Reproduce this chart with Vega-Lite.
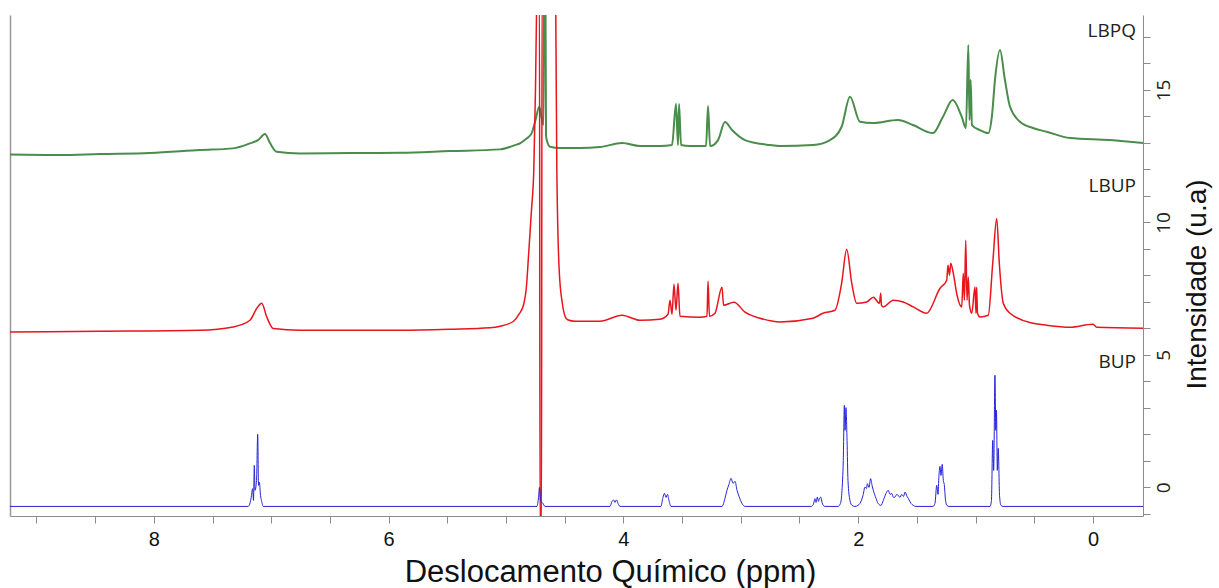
{
  "$schema": "https://vega.github.io/schema/vega-lite/v6.json",
  "width": 1133,
  "height": 501,
  "autosize": "none",
  "padding": {"left": 10, "top": 15, "right": 76, "bottom": 72},
  "background": "white",
  "config": {"view": {"stroke": null}},
  "datasets": {
    "spec": [
      {"serie":"LBPQ","ppm":9.225,"int":12.561},{"serie":"LBPQ","ppm":8.799,"int":12.543},{"serie":"LBPQ","ppm":8.458,"int":12.58},{"serie":"LBPQ","ppm":8.032,"int":12.618},{"serie":"LBPQ","ppm":7.606,"int":12.731},{"serie":"LBPQ","ppm":7.325,"int":12.796},{"serie":"LBPQ","ppm":7.181,"int":12.985},{"serie":"LBPQ","ppm":7.112,"int":13.109},{"serie":"LBPQ","ppm":7.053,"int":13.336},{"serie":"LBPQ","ppm":7.01,"int":12.996},{"serie":"LBPQ","ppm":6.953,"int":12.667},{"serie":"LBPQ","ppm":6.755,"int":12.607},{"serie":"LBPQ","ppm":6.329,"int":12.618},{"serie":"LBPQ","ppm":5.903,"int":12.63},{"serie":"LBPQ","ppm":5.477,"int":12.694},{"serie":"LBPQ","ppm":5.051,"int":12.758},{"serie":"LBPQ","ppm":4.923,"int":12.92},{"serie":"LBPQ","ppm":4.881,"int":12.985},{"serie":"LBPQ","ppm":4.83,"int":13.147},{"serie":"LBPQ","ppm":4.781,"int":13.374},{"serie":"LBPQ","ppm":4.753,"int":13.789},{"serie":"LBPQ","ppm":4.716,"int":14.367},{"serie":"LBPQ","ppm":4.702,"int":14.054},{"serie":"LBPQ","ppm":4.689,"int":13.789},{"serie":"LBPQ","ppm":4.681,"int":13.676},{"serie":"LBPQ","ppm":4.676,"int":18.776},{"serie":"LBPQ","ppm":4.664,"int":18.776},{"serie":"LBPQ","ppm":4.659,"int":13.298},{"serie":"LBPQ","ppm":4.653,"int":13.109},{"serie":"LBPQ","ppm":4.625,"int":12.856},{"serie":"LBPQ","ppm":4.54,"int":12.807},{"serie":"LBPQ","ppm":4.37,"int":12.807},{"serie":"LBPQ","ppm":4.199,"int":12.845},{"serie":"LBPQ","ppm":4.012,"int":12.996},{"serie":"LBPQ","ppm":3.859,"int":12.883},{"serie":"LBPQ","ppm":3.688,"int":12.883},{"serie":"LBPQ","ppm":3.586,"int":12.92},{"serie":"LBPQ","ppm":3.552,"int":14.469},{"serie":"LBPQ","ppm":3.535,"int":12.92},{"serie":"LBPQ","ppm":3.526,"int":14.469},{"serie":"LBPQ","ppm":3.509,"int":12.92},{"serie":"LBPQ","ppm":3.433,"int":12.883},{"serie":"LBPQ","ppm":3.296,"int":12.883},{"serie":"LBPQ","ppm":3.279,"int":14.394},{"serie":"LBPQ","ppm":3.262,"int":12.883},{"serie":"LBPQ","ppm":3.194,"int":13.109},{"serie":"LBPQ","ppm":3.135,"int":13.789},{"serie":"LBPQ","ppm":3.075,"int":13.487},{"serie":"LBPQ","ppm":2.964,"int":13.109},{"serie":"LBPQ","ppm":2.751,"int":12.92},{"serie":"LBPQ","ppm":2.666,"int":12.883},{"serie":"LBPQ","ppm":2.385,"int":12.92},{"serie":"LBPQ","ppm":2.24,"int":13.109},{"serie":"LBPQ","ppm":2.141,"int":13.612},{"serie":"LBPQ","ppm":2.07,"int":14.745},{"serie":"LBPQ","ppm":1.985,"int":13.801},{"serie":"LBPQ","ppm":1.874,"int":13.751},{"serie":"LBPQ","ppm":1.661,"int":13.865},{"serie":"LBPQ","ppm":1.533,"int":13.676},{"serie":"LBPQ","ppm":1.363,"int":13.374},{"serie":"LBPQ","ppm":1.278,"int":13.99},{"serie":"LBPQ","ppm":1.195,"int":14.62},{"serie":"LBPQ","ppm":1.118,"int":13.99},{"serie":"LBPQ","ppm":1.082,"int":13.563},{"serie":"LBPQ","ppm":1.062,"int":16.698},{"serie":"LBPQ","ppm":1.052,"int":13.865},{"serie":"LBPQ","ppm":1.042,"int":15.376},{"serie":"LBPQ","ppm":1.031,"int":13.676},{"serie":"LBPQ","ppm":0.963,"int":13.487},{"serie":"LBPQ","ppm":0.892,"int":13.374},{"serie":"LBPQ","ppm":0.86,"int":14.054},{"serie":"LBPQ","ppm":0.835,"int":15.376},{"serie":"LBPQ","ppm":0.792,"int":16.509},{"serie":"LBPQ","ppm":0.75,"int":15.376},{"serie":"LBPQ","ppm":0.707,"int":14.367},{"serie":"LBPQ","ppm":0.622,"int":13.801},{"serie":"LBPQ","ppm":0.511,"int":13.563},{"serie":"LBPQ","ppm":0.394,"int":13.423},{"serie":"LBPQ","ppm":0.196,"int":13.185},{"serie":"LBPQ","ppm":-0.145,"int":13.109},{"serie":"LBPQ","ppm":-0.426,"int":12.996},

      {"serie":"LBUP","ppm":9.225,"int":5.867},{"serie":"LBUP","ppm":8.458,"int":5.893},{"serie":"LBUP","ppm":7.606,"int":5.931},{"serie":"LBUP","ppm":7.325,"int":6.056},{"serie":"LBUP","ppm":7.181,"int":6.309},{"serie":"LBUP","ppm":7.124,"int":6.751},{"serie":"LBUP","ppm":7.081,"int":6.951},{"serie":"LBUP","ppm":7.038,"int":6.434},{"serie":"LBUP","ppm":6.982,"int":5.995},{"serie":"LBUP","ppm":6.755,"int":5.931},{"serie":"LBUP","ppm":6.329,"int":5.931},{"serie":"LBUP","ppm":5.903,"int":5.931},{"serie":"LBUP","ppm":5.477,"int":5.969},{"serie":"LBUP","ppm":5.136,"int":6.026},{"serie":"LBUP","ppm":5.051,"int":6.082},{"serie":"LBUP","ppm":4.936,"int":6.271},{"serie":"LBUP","ppm":4.889,"int":6.536},{"serie":"LBUP","ppm":4.849,"int":6.913},{"serie":"LBUP","ppm":4.825,"int":7.631},{"serie":"LBUP","ppm":4.807,"int":8.821},{"serie":"LBUP","ppm":4.783,"int":10.465},{"serie":"LBUP","ppm":4.763,"int":12.014},{"serie":"LBUP","ppm":4.749,"int":14.998},{"serie":"LBUP","ppm":4.74,"int":17.888},{"serie":"LBUP","ppm":4.736,"int":18.776},{"serie":"LBUP","ppm":4.715,"int":18.776},{"serie":"LBUP","ppm":4.71,"int":-1.624},{"serie":"LBUP","ppm":4.698,"int":-1.624},{"serie":"LBUP","ppm":4.693,"int":18.776},{"serie":"LBUP","ppm":4.578,"int":18.776},{"serie":"LBUP","ppm":4.576,"int":17.888},{"serie":"LBUP","ppm":4.567,"int":12.014},{"serie":"LBUP","ppm":4.547,"int":8.198},{"serie":"LBUP","ppm":4.519,"int":6.913},{"serie":"LBUP","ppm":4.497,"int":6.46},{"serie":"LBUP","ppm":4.475,"int":6.328},{"serie":"LBUP","ppm":4.412,"int":6.271},{"serie":"LBUP","ppm":4.199,"int":6.271},{"serie":"LBUP","ppm":4.012,"int":6.498},{"serie":"LBUP","ppm":3.859,"int":6.309},{"serie":"LBUP","ppm":3.688,"int":6.347},{"serie":"LBUP","ppm":3.62,"int":6.536},{"serie":"LBUP","ppm":3.603,"int":7.065},{"serie":"LBUP","ppm":3.586,"int":6.536},{"serie":"LBUP","ppm":3.569,"int":7.669},{"serie":"LBUP","ppm":3.552,"int":6.687},{"serie":"LBUP","ppm":3.535,"int":7.707},{"serie":"LBUP","ppm":3.518,"int":6.46},{"serie":"LBUP","ppm":3.348,"int":6.422},{"serie":"LBUP","ppm":3.288,"int":6.46},{"serie":"LBUP","ppm":3.279,"int":7.782},{"serie":"LBUP","ppm":3.267,"int":6.46},{"serie":"LBUP","ppm":3.22,"int":6.573},{"serie":"LBUP","ppm":3.16,"int":7.556},{"serie":"LBUP","ppm":3.147,"int":6.876},{"serie":"LBUP","ppm":3.058,"int":6.989},{"serie":"LBUP","ppm":2.964,"int":6.611},{"serie":"LBUP","ppm":2.836,"int":6.385},{"serie":"LBUP","ppm":2.666,"int":6.245},{"serie":"LBUP","ppm":2.385,"int":6.385},{"serie":"LBUP","ppm":2.3,"int":6.573},{"serie":"LBUP","ppm":2.198,"int":6.687},{"serie":"LBUP","ppm":2.141,"int":7.707},{"serie":"LBUP","ppm":2.098,"int":8.991},{"serie":"LBUP","ppm":2.055,"int":7.707},{"serie":"LBUP","ppm":2.013,"int":6.951},{"serie":"LBUP","ppm":1.928,"int":7.0},{"serie":"LBUP","ppm":1.871,"int":7.178},{"serie":"LBUP","ppm":1.819,"int":6.951},{"serie":"LBUP","ppm":1.808,"int":7.329},{"serie":"LBUP","ppm":1.802,"int":6.876},{"serie":"LBUP","ppm":1.786,"int":6.811},{"serie":"LBUP","ppm":1.701,"int":7.065},{"serie":"LBUP","ppm":1.616,"int":7.0},{"serie":"LBUP","ppm":1.531,"int":6.811},{"serie":"LBUP","ppm":1.417,"int":6.573},{"serie":"LBUP","ppm":1.303,"int":7.518},{"serie":"LBUP","ppm":1.246,"int":7.82},{"serie":"LBUP","ppm":1.235,"int":8.387},{"serie":"LBUP","ppm":1.222,"int":8.009},{"serie":"LBUP","ppm":1.212,"int":8.462},{"serie":"LBUP","ppm":1.19,"int":8.085},{"serie":"LBUP","ppm":1.158,"int":7.253},{"serie":"LBUP","ppm":1.118,"int":6.811},{"serie":"LBUP","ppm":1.105,"int":8.085},{"serie":"LBUP","ppm":1.095,"int":7.065},{"serie":"LBUP","ppm":1.084,"int":9.331},{"serie":"LBUP","ppm":1.073,"int":7.065},{"serie":"LBUP","ppm":1.062,"int":7.945},{"serie":"LBUP","ppm":1.052,"int":6.876},{"serie":"LBUP","ppm":1.033,"int":6.573},{"serie":"LBUP","ppm":1.005,"int":7.567},{"serie":"LBUP","ppm":0.997,"int":6.573},{"serie":"LBUP","ppm":0.991,"int":7.556},{"serie":"LBUP","ppm":0.984,"int":6.573},{"serie":"LBUP","ppm":0.963,"int":6.434},{"serie":"LBUP","ppm":0.892,"int":6.498},{"serie":"LBUP","ppm":0.854,"int":8.462},{"serie":"LBUP","ppm":0.82,"int":10.151},{"serie":"LBUP","ppm":0.798,"int":8.462},{"serie":"LBUP","ppm":0.764,"int":6.951},{"serie":"LBUP","ppm":0.707,"int":6.573},{"serie":"LBUP","ppm":0.511,"int":6.196},{"serie":"LBUP","ppm":0.394,"int":6.12},{"serie":"LBUP","ppm":0.196,"int":6.045},{"serie":"LBUP","ppm":0.0,"int":6.158},{"serie":"LBUP","ppm":-0.032,"int":6.045},{"serie":"LBUP","ppm":-0.426,"int":6.007},

      {"serie":"BUP","ppm":9.225,"int":-0.718},{"serie":"BUP","ppm":7.198,"int":-0.718},{"serie":"BUP","ppm":7.187,"int":-0.68},{"serie":"BUP","ppm":7.172,"int":-0.416},{"serie":"BUP","ppm":7.158,"int":-0.049},{"serie":"BUP","ppm":7.151,"int":-0.491},{"serie":"BUP","ppm":7.144,"int":0.831},{"serie":"BUP","ppm":7.138,"int":-0.113},{"serie":"BUP","ppm":7.125,"int":0.264},{"serie":"BUP","ppm":7.115,"int":2.002},{"serie":"BUP","ppm":7.108,"int":0.076},{"serie":"BUP","ppm":7.101,"int":0.2},{"serie":"BUP","ppm":7.091,"int":-0.302},{"serie":"BUP","ppm":7.083,"int":-0.491},{"serie":"BUP","ppm":7.067,"int":-0.718},{"serie":"BUP","ppm":4.736,"int":-0.718},{"serie":"BUP","ppm":4.723,"int":-0.378},{"serie":"BUP","ppm":4.7147,"int":0.0},{"serie":"BUP","ppm":4.706,"int":-0.491},{"serie":"BUP","ppm":4.685,"int":-0.604},{"serie":"BUP","ppm":4.668,"int":-0.718},{"serie":"BUP","ppm":4.114,"int":-0.718},{"serie":"BUP","ppm":4.097,"int":-0.529},{"serie":"BUP","ppm":4.084,"int":-0.472},{"serie":"BUP","ppm":4.072,"int":-0.567},{"serie":"BUP","ppm":4.059,"int":-0.472},{"serie":"BUP","ppm":4.046,"int":-0.604},{"serie":"BUP","ppm":4.029,"int":-0.718},{"serie":"BUP","ppm":3.68,"int":-0.718},{"serie":"BUP","ppm":3.663,"int":-0.378},{"serie":"BUP","ppm":3.65,"int":-0.227},{"serie":"BUP","ppm":3.637,"int":-0.378},{"serie":"BUP","ppm":3.624,"int":-0.264},{"serie":"BUP","ppm":3.612,"int":-0.491},{"serie":"BUP","ppm":3.595,"int":-0.718},{"serie":"BUP","ppm":3.16,"int":-0.718},{"serie":"BUP","ppm":3.135,"int":-0.416},{"serie":"BUP","ppm":3.118,"int":-0.113},{"serie":"BUP","ppm":3.101,"int":0.113},{"serie":"BUP","ppm":3.083,"int":0.34},{"serie":"BUP","ppm":3.066,"int":0.151},{"serie":"BUP","ppm":3.049,"int":0.227},{"serie":"BUP","ppm":3.032,"int":-0.113},{"serie":"BUP","ppm":3.015,"int":-0.34},{"serie":"BUP","ppm":2.99,"int":-0.604},{"serie":"BUP","ppm":2.964,"int":-0.718},{"serie":"BUP","ppm":2.402,"int":-0.718},{"serie":"BUP","ppm":2.382,"int":-0.642},{"serie":"BUP","ppm":2.368,"int":-0.427},{"serie":"BUP","ppm":2.359,"int":-0.567},{"serie":"BUP","ppm":2.348,"int":-0.366},{"serie":"BUP","ppm":2.338,"int":-0.529},{"serie":"BUP","ppm":2.331,"int":-0.434},{"serie":"BUP","ppm":2.319,"int":-0.366},{"serie":"BUP","ppm":2.308,"int":-0.567},{"serie":"BUP","ppm":2.297,"int":-0.68},{"serie":"BUP","ppm":2.283,"int":-0.718},{"serie":"BUP","ppm":2.172,"int":-0.718},{"serie":"BUP","ppm":2.151,"int":-0.604},{"serie":"BUP","ppm":2.138,"int":-0.113},{"serie":"BUP","ppm":2.127,"int":1.02},{"serie":"BUP","ppm":2.118,"int":3.098},{"serie":"BUP","ppm":2.112,"int":2.153},{"serie":"BUP","ppm":2.104,"int":3.011},{"serie":"BUP","ppm":2.095,"int":1.776},{"serie":"BUP","ppm":2.087,"int":0.264},{"serie":"BUP","ppm":2.07,"int":-0.491},{"serie":"BUP","ppm":2.053,"int":-0.68},{"serie":"BUP","ppm":2.027,"int":-0.718},{"serie":"BUP","ppm":2.002,"int":-0.68},{"serie":"BUP","ppm":1.985,"int":-0.604},{"serie":"BUP","ppm":1.959,"int":-0.302},{"serie":"BUP","ppm":1.942,"int":0.011},{"serie":"BUP","ppm":1.929,"int":-0.038},{"serie":"BUP","ppm":1.922,"int":0.14},{"serie":"BUP","ppm":1.908,"int":0.0},{"serie":"BUP","ppm":1.894,"int":0.329},{"serie":"BUP","ppm":1.882,"int":0.076},{"serie":"BUP","ppm":1.871,"int":-0.113},{"serie":"BUP","ppm":1.848,"int":-0.416},{"serie":"BUP","ppm":1.829,"int":-0.616},{"serie":"BUP","ppm":1.806,"int":-0.68},{"serie":"BUP","ppm":1.786,"int":-0.491},{"serie":"BUP","ppm":1.763,"int":-0.227},{"serie":"BUP","ppm":1.744,"int":-0.113},{"serie":"BUP","ppm":1.729,"int":-0.264},{"serie":"BUP","ppm":1.715,"int":-0.227},{"serie":"BUP","ppm":1.699,"int":-0.378},{"serie":"BUP","ppm":1.687,"int":-0.366},{"serie":"BUP","ppm":1.67,"int":-0.264},{"serie":"BUP","ppm":1.659,"int":-0.302},{"serie":"BUP","ppm":1.644,"int":-0.378},{"serie":"BUP","ppm":1.629,"int":-0.264},{"serie":"BUP","ppm":1.614,"int":-0.34},{"serie":"BUP","ppm":1.601,"int":-0.178},{"serie":"BUP","ppm":1.584,"int":-0.34},{"serie":"BUP","ppm":1.573,"int":-0.416},{"serie":"BUP","ppm":1.55,"int":-0.604},{"serie":"BUP","ppm":1.531,"int":-0.68},{"serie":"BUP","ppm":1.508,"int":-0.718},{"serie":"BUP","ppm":1.363,"int":-0.718},{"serie":"BUP","ppm":1.346,"int":-0.604},{"serie":"BUP","ppm":1.331,"int":0.076},{"serie":"BUP","ppm":1.32,"int":-0.264},{"serie":"BUP","ppm":1.312,"int":0.453},{"serie":"BUP","ppm":1.303,"int":0.793},{"serie":"BUP","ppm":1.295,"int":0.453},{"serie":"BUP","ppm":1.284,"int":0.869},{"serie":"BUP","ppm":1.275,"int":0.264},{"serie":"BUP","ppm":1.267,"int":0.113},{"serie":"BUP","ppm":1.256,"int":-0.491},{"serie":"BUP","ppm":1.244,"int":-0.68},{"serie":"BUP","ppm":1.227,"int":-0.718},{"serie":"BUP","ppm":0.877,"int":-0.718},{"serie":"BUP","ppm":0.865,"int":-0.491},{"serie":"BUP","ppm":0.854,"int":1.776},{"serie":"BUP","ppm":0.846,"int":0.642},{"serie":"BUP","ppm":0.835,"int":4.231},{"serie":"BUP","ppm":0.828,"int":2.153},{"serie":"BUP","ppm":0.822,"int":2.909},{"serie":"BUP","ppm":0.815,"int":0.642},{"serie":"BUP","ppm":0.807,"int":1.473},{"serie":"BUP","ppm":0.796,"int":-0.302},{"serie":"BUP","ppm":0.784,"int":-0.68},{"serie":"BUP","ppm":0.767,"int":-0.718},{"serie":"BUP","ppm":-0.426,"int":-0.718}
    ],
    "labels": [
      {"t":"LBPQ","ppm":-0.366,"int":17.23},
      {"t":"LBUP","ppm":-0.366,"int":11.37},
      {"t":"BUP","ppm":-0.366,"int":4.72}
    ]
  },
  "layer": [
    {
      "data": {"name": "spec"},
      "mark": {"type": "line", "clip": true, "interpolate": "monotone"},
      "encoding": {
        "x": {
          "field": "ppm", "type": "quantitative",
          "scale": {"domain": [-0.426, 9.225], "reverse": true, "nice": false, "zero": false},
          "axis": {
            "title": "Deslocamento Químico  (ppm)",
            "values": [0,0.5,1,1.5,2,2.5,3,3.5,4,4.5,5,5.5,6,6.5,7,7.5,8,8.5,9],
            "labelExpr": "datum.value % 2 === 0 ? format(datum.value, 'd') : ''",
            "grid": false, "labelOverlap": false, "labelFlush": false,
            "domainColor": "#8c8c8c", "tickColor": "#8c8c8c", "tickSize": 7,
            "labelFont": "Liberation Sans", "labelFontSize": 20, "labelColor": "#111111", "labelPadding": 6,
            "titleFont": "Liberation Sans", "titleFontSize": 31, "titleFontWeight": "normal", "titleColor": "#111111",
            "titleX": 600, "titleY": 65, "titleBaseline": "alphabetic", "titleAlign": "center"
          }
        },
        "y": {
          "field": "int", "type": "quantitative",
          "scale": {"domain": [-1.08, 17.83], "nice": false, "zero": false},
          "axis": {
            "orient": "right",
            "title": "Intensidade (u.a)",
            "values": [-1,0,1,2,3,4,5,6,7,8,9,10,11,12,13,14,15,16,17],
            "labelExpr": "datum.value % 5 === 0 ? datum.label : ''",
            "grid": false, "labelOverlap": false, "labelFlush": false,
            "domainColor": "#8c8c8c", "tickColor": "#8c8c8c", "tickSize": 7,
            "labelAngle": 270, "labelAlign": "center", "labelBaseline": "top",
            "labelFont": "Open Sans", "labelFontSize": 19, "labelColor": "#222222", "labelPadding": 4,
            "titleFont": "Liberation Sans", "titleFontSize": 28, "titleFontWeight": "normal", "titleColor": "#111111",
            "titleAngle": 270, "titleX": 62, "titleY": 269, "titleBaseline": "alphabetic", "titleAlign": "center"
          }
        },
        "color": {
          "field": "serie", "type": "nominal",
          "scale": {"domain": ["BUP", "LBUP", "LBPQ"], "range": ["#2424d6", "#e8141e", "#4a8c4a"]},
          "legend": null
        },
        "strokeWidth": {
          "field": "serie", "type": "nominal",
          "scale": {"domain": ["BUP", "LBUP", "LBPQ"], "range": [1, 2, 2]},
          "legend": null
        }
      }
    },
    {
      "data": {"name": "labels"},
      "mark": {"type": "text", "align": "right", "baseline": "middle", "font": "Open Sans", "fontSize": 19, "color": "#222222"},
      "encoding": {
        "x": {"field": "ppm", "type": "quantitative"},
        "y": {
          "field": "int", "type": "quantitative",
          "axis": {"orient": "left", "title": null, "labels": false, "ticks": false, "grid": false, "domainColor": "#999999", "domainWidth": 1.5}
        },
        "text": {"field": "t"}
      }
    }
  ],
  "resolve": {"axis": {"y": "independent"}}
}
